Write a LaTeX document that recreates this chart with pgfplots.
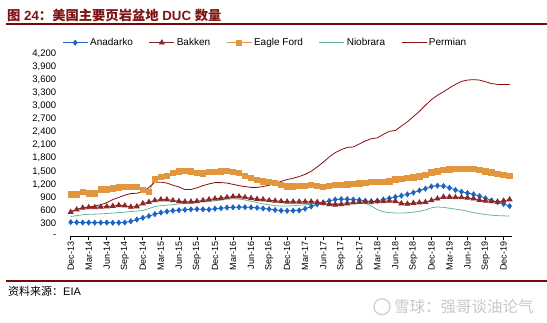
\documentclass[border=0pt]{standalone}
\usepackage{pgfplots}
\pgfplotsset{compat=1.18}
\usepackage{pgfplotstable}
\usepackage{fontspec}
\setmainfont{Liberation Sans}
\newfontfamily\cjk{Noto Sans CJK SC}
\definecolor{titlered}{RGB}{128,20,20}
\definecolor{rulered}{RGB}{122,8,8}
\definecolor{cAna}{RGB}{28,100,195}
\definecolor{cBak}{RGB}{140,40,40}
\definecolor{cEag}{RGB}{226,150,62}
\definecolor{cNio}{RGB}{104,180,158}
\definecolor{cPer}{RGB}{140,12,12}
\pgfplotstableread{
i A B E N P
0 330 560 970 460 570
1 325 620 970 480 620
2 320 660 1030 500 660
3 320 670 990 510 680
4 318 670 990 515 700
5 320 680 1080 520 730
6 320 690 1085 530 780
7 315 700 1110 540 850
8 318 720 1130 550 900
9 322 710 1140 560 950
10 350 680 1145 575 990
11 390 690 1140 585 995
12 430 760 1070 600 1030
13 470 790 1030 640 1130
14 515 830 1310 690 1250
15 550 850 1370 710 1250
16 575 850 1400 720 1230
17 595 830 1460 730 1180
18 605 810 1500 750 1140
19 615 800 1510 765 1080
20 625 800 1500 780 1080
21 630 810 1460 790 1120
22 625 830 1450 800 1170
23 620 850 1480 810 1210
24 640 870 1490 820 1240
25 650 880 1500 840 1240
26 665 900 1510 860 1230
27 670 920 1490 870 1200
28 675 920 1460 860 1170
29 675 900 1400 840 1150
30 670 880 1350 810 1130
31 660 860 1300 780 1130
32 645 850 1270 750 1150
33 630 830 1250 730 1180
34 610 820 1230 710 1220
35 595 810 1180 700 1270
36 590 800 1150 700 1310
37 595 800 1150 710 1340
38 600 800 1160 720 1380
39 640 800 1160 730 1430
40 690 800 1190 740 1500
41 740 790 1170 745 1600
42 780 770 1140 750 1710
43 820 740 1170 755 1830
44 850 730 1180 760 1930
45 860 740 1190 765 2000
46 860 760 1200 770 2050
47 850 780 1210 780 2060
48 840 790 1225 790 2130
49 820 800 1235 770 2200
50 805 800 1250 700 2250
51 820 810 1260 620 2270
52 850 810 1260 570 2350
53 880 820 1270 550 2420
54 910 810 1310 540 2440
55 940 760 1330 540 2540
56 970 750 1350 545 2640
57 1010 770 1360 560 2760
58 1060 780 1380 580 2880
59 1100 790 1420 610 3020
60 1150 830 1470 660 3150
61 1170 870 1500 680 3250
62 1160 910 1530 670 3330
63 1120 910 1540 650 3420
64 1070 900 1550 630 3500
65 1030 900 1560 610 3570
66 1000 890 1560 580 3600
67 970 870 1550 550 3610
68 930 840 1530 525 3600
69 880 820 1500 505 3560
70 830 810 1470 490 3520
71 790 800 1440 480 3500
72 750 820 1420 475 3500
73 700 850 1400 470 3500
}\data
\begin{document}
\begin{tikzpicture}
\useasboundingbox (0pt,0pt) rectangle (547pt,323pt);
% title and rules
\node[anchor=west, inner sep=0pt, text=titlered, font=\bfseries\fontsize{13.3}{15}\selectfont] at (7pt,308pt)
  {{\cjk\bfseries 图} 24{\cjk\bfseries ：美国主要页岩盆地} DUC {\cjk\bfseries 数量}};
\draw[rulered, line width=2pt] (6pt,298.7pt) -- (547pt,298.7pt);
\draw[rulered, line width=2.4pt] (6pt,41.7pt) -- (547pt,41.7pt);
\node[anchor=west, inner sep=0pt, font=\fontsize{11}{13}\selectfont] at (8pt,32pt) {{\cjk 资料来源：}EIA};
% watermark
\draw[black!20, line width=1.2pt] (382pt,16.3pt) circle (8pt);
\node[anchor=west, inner sep=0pt, text=black!22, font=\fontsize{15.5}{17}\selectfont] at (394pt,16.3pt) {\cjk 雪球：强哥谈油论气};
\begin{axis}[
  at={(70.7pt,86.5pt)}, anchor=south west,
  scale only axis, width=441pt, height=182.5pt,
  xmin=0, xmax=73.35, ymin=0, ymax=4200,
  clip=false,
  axis x line*=bottom, axis y line*=left,
  y axis line style={draw=none},
  x axis line style={black, line width=0.8pt},
  xtick={0,3,...,72},
  xticklabels={Dec-13,Mar-14,Jun-14,Sep-14,Dec-14,Mar-15,Jun-15,Sep-15,Dec-15,Mar-16,Jun-16,Sep-16,Dec-16,Mar-17,Jun-17,Sep-17,Dec-17,Mar-18,Jun-18,Sep-18,Dec-18,Mar-19,Jun-19,Sep-19,Dec-19},
  xticklabel style={rotate=90, anchor=east, font=\fontsize{9}{10}\selectfont, inner sep=1pt},
  x tick style={black, line width=0.7pt},
  tick align=outside, major tick length=4pt,
  ytick={0,300,...,4200},
  yticklabels={-,300,600,900,{1,200},{1,500},{1,800},{2,100},{2,400},{2,700},{3,000},{3,300},{3,600},{3,900},{4,200}},
  yticklabel style={font=\fontsize{9.5}{10}\selectfont, anchor=east, xshift=-7pt},
  y tick style={draw=none},
  legend columns=5,
  legend style={draw=none, fill=none, inner sep=0pt, at={(axis description cs:-0.0197,1.062)}, anchor=west,
    font=\fontsize{10}{11}\selectfont,
    /tikz/every even column/.append style={column sep=14pt}},
  legend cell align=left,
  legend image code/.code={\draw[mark repeat=2,mark phase=2] plot coordinates {(0pt,0pt)(12.5pt,0pt)(25pt,0pt)};},
]
\addplot[cAna, line width=0.9pt, mark=diamond*, mark size=2.4pt, mark options={fill=cAna, draw=cAna}] table[x=i,y=A] {\data};
\addlegendentry{Anadarko}
\addplot[cBak, line width=0.9pt, mark=triangle*, mark size=2.7pt, mark options={fill=cBak, draw=cBak}] table[x=i,y=B] {\data};
\addlegendentry{Bakken}
\addplot[cEag, line width=0.9pt, mark=square*, mark size=2.7pt, mark options={fill=cEag, draw=cEag}] table[x=i,y=E] {\data};
\addlegendentry{Eagle Ford}
\addplot[cNio, line width=0.8pt] table[x=i,y=N] {\data};
\addlegendentry{Niobrara}
\addplot[cPer, line width=0.8pt] table[x=i,y=P] {\data};
\addlegendentry{Permian}
\end{axis}
\end{tikzpicture}
\end{document}
